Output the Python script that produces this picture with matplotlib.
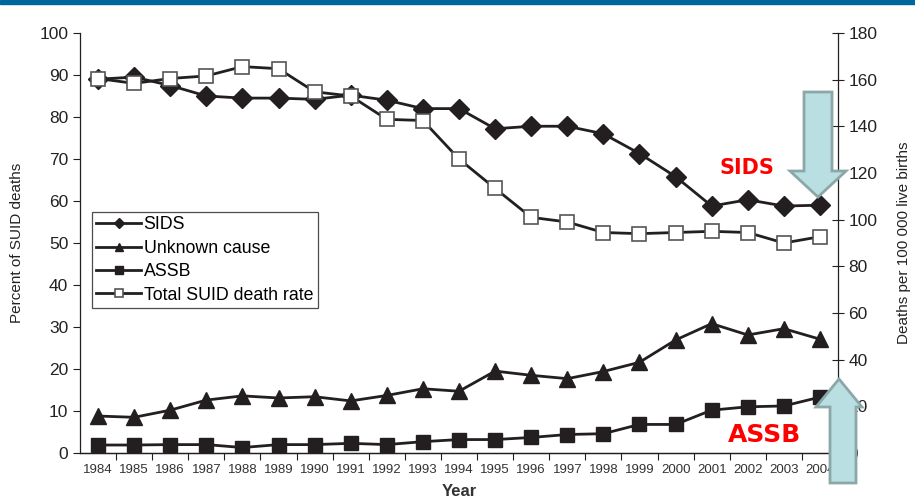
import matplotlib
matplotlib.use("Agg")
import matplotlib.pyplot as plt
from matplotlib.patches import Polygon, Rectangle
from matplotlib.ticker import FixedLocator

plt.rcParams['font.family'] = ['Liberation Sans', 'DejaVu Sans']

years = [str(y) for y in range(1984, 2005)]

# percent of SUID deaths (left axis)
sids = [89.0, 89.5, 87.5, 85.0, 84.5, 84.5, 84.2, 85.2, 84.0, 82.0, 82.0,
        77.2, 77.8, 77.8, 76.0, 71.3, 65.8, 58.8, 60.3, 58.8, 59.0]
unknown = [8.8, 8.5, 10.2, 12.6, 13.6, 13.1, 13.4, 12.4, 13.7, 15.3, 14.7,
           19.5, 18.5, 17.7, 19.4, 21.6, 26.9, 30.8, 28.1, 29.6, 27.1]
assb = [1.9, 1.9, 2.0, 2.0, 1.3, 2.0, 2.0, 2.3, 2.0, 2.7, 3.2,
        3.2, 3.7, 4.4, 4.6, 6.8, 6.8, 10.2, 11.0, 11.2, 13.3]

# total SUID deaths per 100 000 live births (right axis)
total_rate = [160.5, 158.4, 160.5, 161.6, 165.6, 164.7, 154.8, 153.0, 143.0, 142.5, 126.0,
              113.4, 101.0, 99.0, 94.5, 94.0, 94.5, 95.0, 94.5, 90.0, 92.7]

W, H = 915, 500
fig = plt.figure(figsize=(W / 100, H / 100), dpi=100)
fig.patches.append(Rectangle((0, 1 - 4 / H), 1, 4 / H, transform=fig.transFigure,
                             color='#00679B', zorder=0))

ax = fig.add_axes([80 / W, 1 - 453 / H, (838 - 80) / W, (453 - 33) / H])
ax2 = ax.twinx()

x = list(range(len(years)))
ink = '#231F20'

ax.plot(x, sids, color=ink, lw=2, marker='D', ms=10, mfc=ink, mec=ink, label='SIDS', zorder=3)
ax.plot(x, unknown, color=ink, lw=2, marker='^', ms=11, mfc=ink, mec=ink,
        label='Unknown cause', zorder=3)
ax.plot(x, assb, color=ink, lw=2, marker='s', ms=10, mfc=ink, mec=ink, label='ASSB', zorder=3)
ax2.plot(x, total_rate, color=ink, lw=2, marker='s', ms=10.5, mfc='white', mec='#555555',
         mew=1.2, label='Total SUID death rate', zorder=3)

ax.set_xlim(-0.5, len(years) - 0.5)
ax.set_ylim(0, 100)
ax2.set_ylim(0, 180)

ax.set_xticks(x)
ax.set_xticklabels(years, fontsize=9.5, color='#333333')
ax.tick_params(axis='x', length=0, pad=8)
ax.xaxis.set_minor_locator(FixedLocator([i + 0.5 for i in x[:-1]]))
ax.tick_params(axis='x', which='minor', length=5, width=0.8, color=ink)

ax.set_yticks(range(0, 101, 10))
ax.tick_params(axis='y', length=5, width=0.8, labelsize=12.5, color=ink, labelcolor='#222222')
ax2.set_yticks(range(0, 181, 20))
ax2.tick_params(axis='y', direction='inout', length=8, width=0.8, labelsize=12.5,
                color=ink, labelcolor='#222222')

for a in (ax, ax2):
    a.spines['top'].set_visible(False)
    for s in ('left', 'right', 'bottom'):
        a.spines[s].set_linewidth(0.9)
        a.spines[s].set_color(ink)
ax.spines['right'].set_visible(False)
ax2.spines['left'].set_visible(False)

ax.set_ylabel('Percent of SUID deaths', fontsize=11, color='#222222', labelpad=11)
ax2.set_ylabel('Deaths per 100 000 live births', fontsize=11, color='#222222', labelpad=14)
ax.set_xlabel('Year', fontsize=12, fontweight='bold', color='#333333', labelpad=6)

h1, l1 = ax.get_legend_handles_labels()
h2, l2 = ax2.get_legend_handles_labels()
leg = ax.legend(h1 + h2, l1 + l2, loc='upper left', bbox_to_anchor=(12 / 758, 1 - 179 / 420),
                borderaxespad=0, fontsize=12.8, frameon=True, fancybox=False, edgecolor=ink,
                handlelength=2.5, handletextpad=0.15, borderpad=0.25, labelspacing=0.36,
                markerscale=0.55)
leg.get_frame().set_linewidth(0.9)
leg.set_zorder(5)

# highlight arrows and labels
fill, edge = '#B9DFE2', '#8CA7A8'
down = [(804, 92), (832, 92), (832, 171), (846, 171), (818, 197), (790, 171), (804, 171)]
up = [(830, 483), (856, 483), (856, 407), (862, 407), (839, 379), (816, 407), (830, 407)]
for pts in (down, up):
    fig.patches.append(Polygon([(px / W, 1 - py / H) for px, py in pts], closed=True,
                               transform=fig.transFigure, facecolor=fill, edgecolor=edge,
                               lw=2, zorder=10))

fig.text(747 / W, 1 - 168 / H, 'SIDS', color='#FF0000', fontsize=15, fontweight='bold',
         ha='center', va='center', family=['DejaVu Sans'])
fig.text(764 / W, 1 - 435 / H, 'ASSB', color='#FF0000', fontsize=18, fontweight='bold',
         ha='center', va='center', family=['DejaVu Sans'])

fig.savefig('out.png', dpi=100)
